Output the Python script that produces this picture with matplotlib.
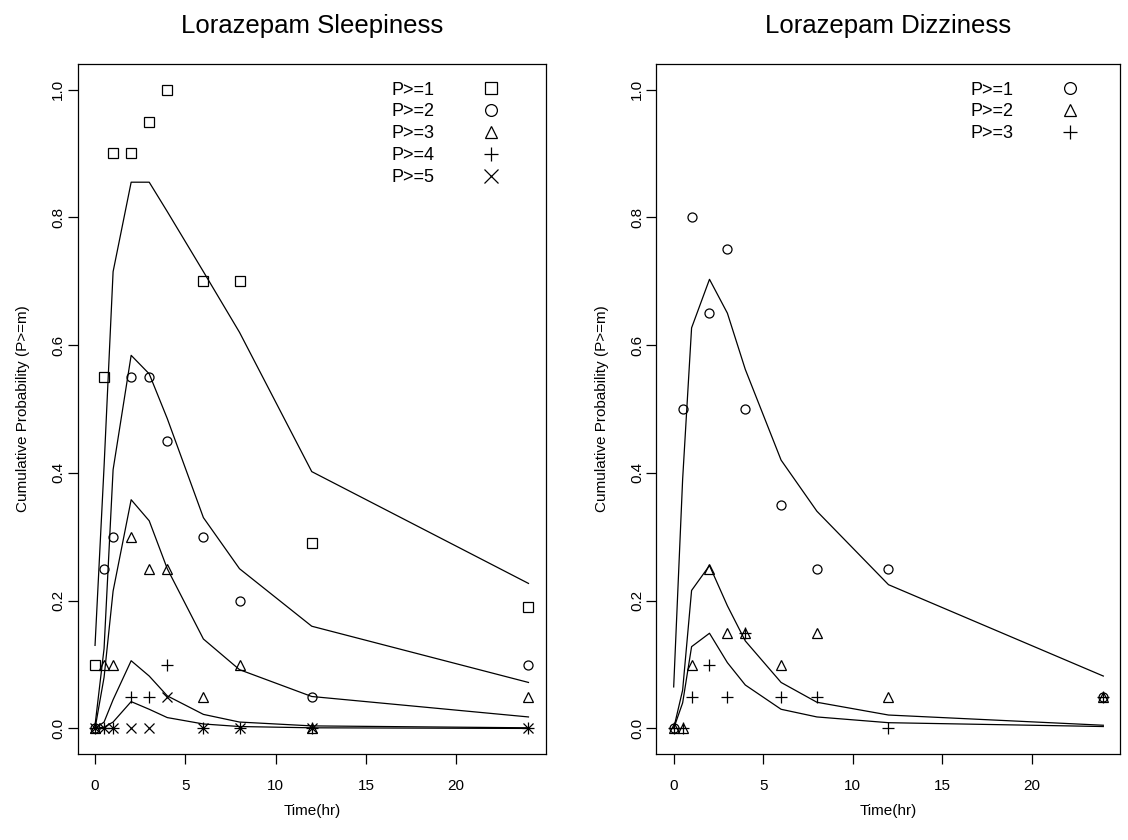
import matplotlib
matplotlib.use("Agg")
import matplotlib.pyplot as plt
from matplotlib.lines import Line2D

plt.rcParams['font.family'] = ['Liberation Sans', 'DejaVu Sans']

# ---- data ----
time = [0, 0.5, 1, 2, 3, 4, 6, 8, 12, 24]

# Sleepiness observed cumulative proportions
sleep_obs_p1 = [0.10, 0.55, 0.90, 0.90, 0.95, 1.00, 0.70, 0.70, 0.29, 0.19]
sleep_obs_p2 = [0.00, 0.25, 0.30, 0.55, 0.55, 0.45, 0.30, 0.20, 0.05, 0.10]
sleep_obs_p3 = [0.00, 0.10, 0.10, 0.30, 0.25, 0.25, 0.05, 0.10, 0.00, 0.05]
sleep_obs_p4 = [0.00, 0.00, 0.00, 0.05, 0.05, 0.10, 0.00, 0.00, 0.00, 0.00]
sleep_obs_p5 = [0.00, 0.00, 0.00, 0.00, 0.00, 0.05, 0.00, 0.00, 0.00, 0.00]

# Sleepiness model-predicted cumulative probabilities
sleep_pred_p1 = [0.130, 0.410, 0.715, 0.855, 0.855, 0.809, 0.715, 0.620, 0.402, 0.227]
sleep_pred_p2 = [0.005, 0.125, 0.405, 0.584, 0.555, 0.485, 0.330, 0.250, 0.160, 0.072]
sleep_pred_p3 = [0.000, 0.080, 0.215, 0.358, 0.325, 0.250, 0.140, 0.092, 0.050, 0.018]
sleep_pred_p4 = [0.000, 0.010, 0.045, 0.106, 0.082, 0.051, 0.022, 0.010, 0.004, 0.001]
sleep_pred_p5 = [0.000, 0.002, 0.010, 0.042, 0.030, 0.017, 0.007, 0.003, 0.001, 0.000]

# Dizziness observed cumulative proportions
dizz_obs_p1 = [0.00, 0.50, 0.80, 0.65, 0.75, 0.50, 0.35, 0.25, 0.25, 0.05]
dizz_obs_p2 = [0.00, 0.00, 0.10, 0.25, 0.15, 0.15, 0.10, 0.15, 0.05, 0.05]
dizz_obs_p3 = [0.00, 0.00, 0.05, 0.10, 0.05, 0.15, 0.05, 0.05, 0.00, 0.05]

# Dizziness model-predicted cumulative probabilities
dizz_pred_p1 = [0.065, 0.390, 0.627, 0.703, 0.650, 0.562, 0.420, 0.340, 0.225, 0.082]
dizz_pred_p2 = [0.000, 0.060, 0.216, 0.255, 0.192, 0.137, 0.072, 0.041, 0.021, 0.005]
dizz_pred_p3 = [0.000, 0.040, 0.128, 0.149, 0.103, 0.068, 0.030, 0.018, 0.009, 0.003]

sleep_labels = ["P>=1", "P>=2", "P>=3", "P>=4", "P>=5"]
dizz_labels = ["P>=1", "P>=2", "P>=3"]

xticks = [0, 5, 10, 15, 20]
yticks = [0.0, 0.2, 0.4, 0.6, 0.8, 1.0]

sleep_markers = ['s', 'o', '^', '+', 'x']
dizz_markers = ['o', '^', '+']
marker_size = {'s': 6.5, 'o': 6.5, '^': 7.0, '+': 8.0, 'x': 7.5}

fig = plt.figure(figsize=(11.28, 8.4), dpi=100)
W, H = 1128, 840
axL = fig.add_axes([77.7 / W, 1 - 754 / H, (545.8 - 77.7) / W, (754 - 64) / H])
axR = fig.add_axes([656.5 / W, 1 - 754 / H, (1120.5 - 656.5) / W, (754 - 64) / H])


def draw(ax, obs, pred, labels, markers, title, leg_x):
    for y in pred:
        ax.plot(time, y, color='black', lw=0.9)
    handles = []
    for i, y in enumerate(obs):
        m = markers[i]
        ms = marker_size[m]
        ax.plot(time, y, linestyle='none', marker=m, markersize=ms,
                markerfacecolor='none', markeredgecolor='black',
                markeredgewidth=0.9, color='black')
        handles.append(Line2D([], [], linestyle='none', marker=m, markersize=ms + 2,
                              markerfacecolor='none', markeredgecolor='black',
                              markeredgewidth=0.9))
    ax.set_xlim(-0.96, 24.96)
    ax.set_ylim(-0.04, 1.04)
    ax.set_xticks(xticks)
    ax.set_yticks(yticks)
    ax.set_xticklabels([str(t) for t in xticks])
    ax.set_yticklabels(["%.1f" % v for v in yticks], rotation=90, va='center')
    ax.tick_params(direction='out', length=7, width=0.9, labelsize=11)
    ax.tick_params(axis='x', pad=11)
    ax.tick_params(axis='y', pad=2)
    for s in ax.spines.values():
        s.set_linewidth(0.9)
    ax.set_xlabel("Time(hr)", fontsize=11, labelpad=8)
    ax.set_ylabel("Cumulative Probability (P>=m)", fontsize=11, labelpad=15)
    ax.set_title(title, fontsize=18.5, pad=22)
    ax.legend(handles, labels, loc='upper right', bbox_to_anchor=(leg_x, 0.985),
              frameon=False, markerfirst=False, handlelength=1.0,
              handletextpad=2.65, labelspacing=0.27, fontsize=13,
              borderaxespad=0)


draw(axL, [sleep_obs_p1, sleep_obs_p2, sleep_obs_p3, sleep_obs_p4, sleep_obs_p5],
     [sleep_pred_p1, sleep_pred_p2, sleep_pred_p3, sleep_pred_p4, sleep_pred_p5],
     sleep_labels, sleep_markers, "Lorazepam Sleepiness", 0.918)
draw(axR, [dizz_obs_p1, dizz_obs_p2, dizz_obs_p3],
     [dizz_pred_p1, dizz_pred_p2, dizz_pred_p3],
     dizz_labels, dizz_markers, "Lorazepam Dizziness", 0.926)

fig.savefig("out.png", dpi=100)
